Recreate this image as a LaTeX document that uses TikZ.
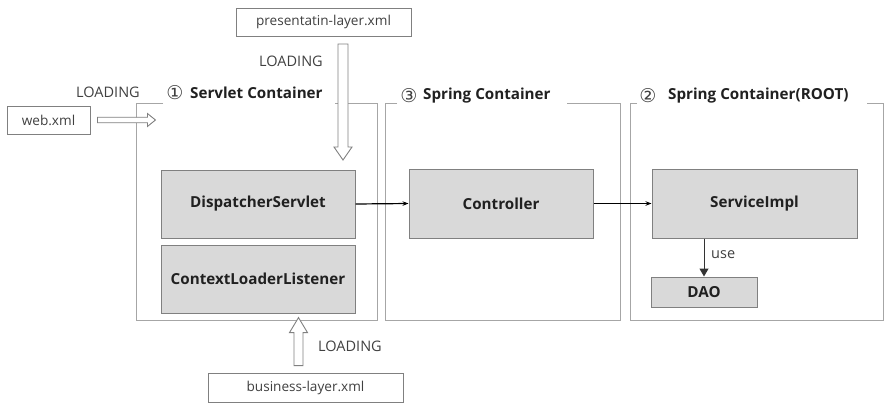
\documentclass[tikz,border=0pt]{standalone}
\usepackage{fontspec}
\setmainfont{Open Sans}
\newfontfamily\symfont{DejaVu Sans}
\usetikzlibrary{calc,arrows.meta}
\definecolor{boxfill}{HTML}{D9D9D9}
\definecolor{boxline}{HTML}{808080}
\definecolor{frameline}{HTML}{A6A6A6}
\definecolor{txt}{HTML}{202020}
\definecolor{ltxt}{HTML}{404040}
\begin{document}
\begin{tikzpicture}[x=1pt,y=-1pt,
  comp/.style={draw=boxline,line width=1pt,fill=boxfill,inner sep=0pt,text=txt,font=\fontsize{15.2}{17}\selectfont\bfseries},
  file/.style={draw=boxline,line width=0.9pt,fill=white,inner sep=0pt,text=ltxt,font=\fontsize{13.6}{16}\selectfont},
  frame/.style={draw=frameline,line width=0.9pt},
  ttl/.style={anchor=west,inner sep=0pt,text=txt,font=\fontsize{15.2}{17}\selectfont\bfseries},
  num/.style={inner sep=0pt,text=ltxt,font=\symfont\fontsize{19}{21}\selectfont},
  lbl/.style={inner sep=0pt,text=ltxt,font=\fontsize{14.5}{17}\selectfont},
  hollow/.style={draw=boxline,line width=0.9pt,fill=white,line join=miter},
  flow/.style={draw=black,line width=1.2pt,-{Stealth[length=6pt,width=4.5pt]}},
  usearrow/.style={draw=black!80,line width=1pt,-{Triangle[length=8pt,width=9pt]}}
]
\useasboundingbox[fill=white] (0,0) rectangle (890,407);

% frames
\draw[frame] (163,103) -- (136,103) -- (136,320) -- (377,320) -- (377,103) -- (335,103);
\draw[frame] (397,103) -- (385,103) -- (385,320) -- (620,320) -- (620,103) -- (567,103);
\draw[frame] (637,103) -- (630,103) -- (630,320) -- (883,320) -- (883,103) -- (867,103);

% titles
\node[num] (n1) at (175,93) {①};
\node[ttl] (t1) at (190,93) {Servlet Container};
\node[num] (n3) at (409,96) {③};
\node[ttl] (t3) at (423,96) {Spring Container};
\node[num] (n2) at (648,96) {②};
\node[ttl] (t2) at (668,96) {Spring Container(ROOT)};

% components
\node[comp,minimum width=194pt,minimum height=68pt] (ds) at (258,204) {DispatcherServlet};
\node[comp,minimum width=194pt,minimum height=68pt] (cll) at (258,279) {ContextLoaderListener};
\node[comp,minimum width=184pt,minimum height=69pt] (ctl) at (501,203.5) {Controller};
\node[comp,minimum width=205pt,minimum height=69pt] (svc) at (754.5,203.5) {ServiceImpl};
\node[comp,minimum width=106pt,minimum height=30pt] (dao) at (704,292) {DAO};

% files
\node[file,minimum width=83pt,minimum height=28pt] (web) at (48.5,120) {web.xml};
\node[file,minimum width=175pt,minimum height=28pt] (pres) at (323.5,22) {presentatin-layer.xml};
\node[file,minimum width=195pt,minimum height=29pt] (biz) at (305.5,387.5) {business-layer.xml};

% loading labels
\node[lbl] (l1) at (108,92) {LOADING};
\node[lbl] (l2) at (291,61) {LOADING};
\node[lbl] (l3) at (350,346) {LOADING};
\node[lbl,anchor=west] (use) at (711,255) {use};

% connectors
\draw[flow] (ds.east) -- (ctl.west);
\draw[flow] (ctl.east) -- (svc.west);
\draw[usearrow] (dao.north |- svc.south) -- (dao.north);

% hollow arrows
\coordinate (wa) at ($(web.east)+(7,0)$);
\draw[hollow] ($(wa)+(0,-2.75)$) -- ++(50,0) -- ++(0,-3.75) -- ++(8,6.5) -- ++(-8,6.5) -- ++(0,-3.75) -- ++(-50,0) -- cycle;
\coordinate (pa) at (343,44);
\draw[hollow] ($(pa)+(-5,0)$) -- ++(0,103) -- ++(-4,0) -- ++(9,13) -- ++(9,-13) -- ++(-4,0) -- ++(0,-103) -- cycle;
\coordinate (ba) at ($(biz.north)+(-7,-7)$);
\draw[hollow] ($(ba)+(-4.5,0)$) -- ++(0,-33) -- ++(-4.5,0) -- ++(9,-15) -- ++(9,15) -- ++(-4.5,0) -- ++(0,33) -- cycle;
\end{tikzpicture}
\end{document}
